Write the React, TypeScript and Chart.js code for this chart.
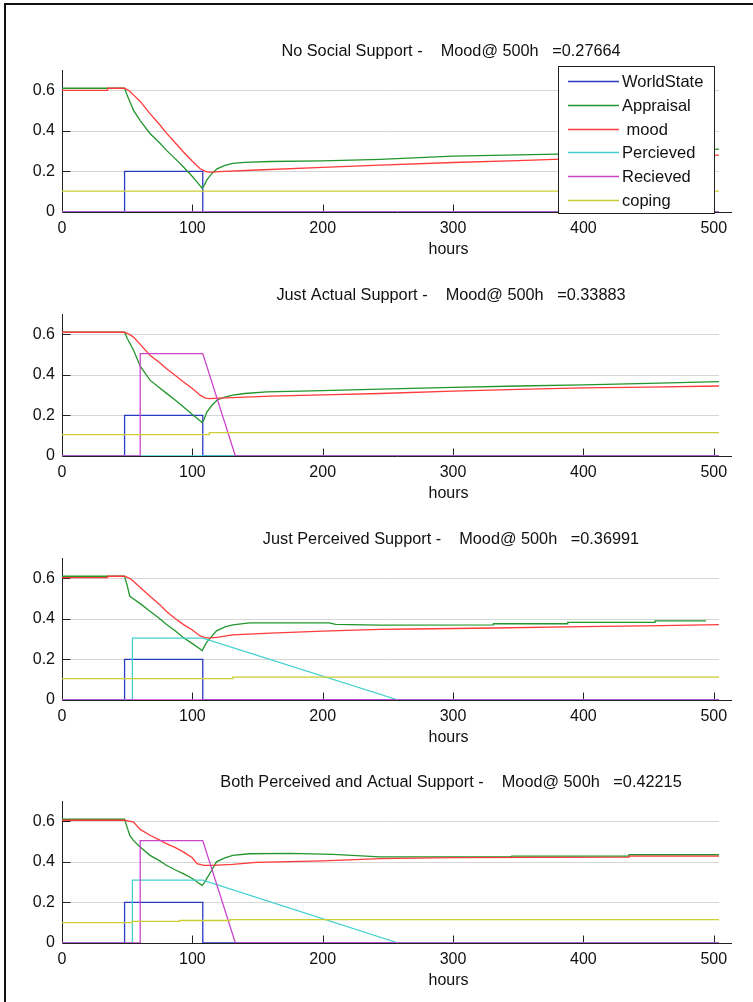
import React, { useEffect, useRef } from 'react';
import { Chart, registerables } from 'chart.js';

Chart.register(...registerables);

const FONT = "'Liberation Sans', Arial, Helvetica, sans-serif";

const seriesNames = ['WorldState', 'Appraisal', ' mood', 'Percieved', 'Recieved', 'coping'];
const seriesColors = ['#2b3cc4', '#22952c', '#ff3a3a', '#44d0d0', '#cc44cc', '#cccc33'];

const xTicks = [0, 100, 200, 300, 400, 500];
const yTicks = [0, 0.2, 0.4, 0.6];
const yGrid = [0.2, 0.4, 0.6];

const panelNames = [
  'No Social Support',
  'Just Actual Support',
  'Just Perceived Support',
  'Both Perceived and Actual Support',
];
const moodAt500 = ['0.27664', '0.33883', '0.36991', '0.42215'];

type Pt = [number, number];

// shared series
const worldState: Pt[] = [[0, 0], [48, 0], [48, 0.2], [108, 0.2], [108, 0], [504, 0]];
const zeroLine: Pt[] = [[0, 0], [504, 0]];

// Panel 1: No Social Support
const p1Appraisal: Pt[] = [
  [0, 0.61], [48, 0.61], [50, 0.575], [52, 0.545], [55, 0.5], [60, 0.45], [67.5, 0.387],
  [75, 0.34], [80, 0.305], [87, 0.262], [93, 0.223], [100, 0.175], [104, 0.145], [107.5, 0.117],
  [109, 0.13], [111, 0.157], [115, 0.19], [119, 0.213], [125, 0.23], [131, 0.24], [140, 0.245],
  [160, 0.249], [200, 0.252], [244, 0.259], [300, 0.275], [380, 0.285], [450, 0.298], [504, 0.31],
];
const p1Mood: Pt[] = [
  [0, 0.6], [35, 0.6], [35, 0.61], [48, 0.61], [52, 0.595], [55, 0.576], [60, 0.545],
  [67.5, 0.485], [75, 0.43], [80, 0.39], [87, 0.34], [93, 0.297], [100, 0.25], [106, 0.213],
  [110, 0.2], [113, 0.197], [116, 0.197], [120, 0.199], [150, 0.207], [200, 0.22], [244, 0.231],
  [300, 0.244], [350, 0.253], [400, 0.264], [450, 0.272], [504, 0.28],
];
const p1Coping: Pt[] = [[0, 0.103], [504, 0.103]];

// Panel 2: Just Actual Support
const p2Appraisal: Pt[] = [
  [0, 0.61], [48, 0.61], [50, 0.58], [55, 0.52], [60, 0.443], [67.5, 0.374], [75, 0.335],
  [80, 0.31], [87, 0.275], [93, 0.243], [100, 0.205], [107.5, 0.165], [109, 0.18], [111, 0.215],
  [115, 0.25], [119, 0.276], [125, 0.29], [131, 0.3], [140, 0.308], [157, 0.316], [200, 0.322],
  [244, 0.33], [300, 0.338], [350, 0.345], [400, 0.351], [450, 0.358], [504, 0.367],
];
const p2Mood: Pt[] = [
  [0, 0.61], [48, 0.61], [52, 0.598], [55, 0.585], [60, 0.55], [67.5, 0.497], [75, 0.46],
  [80, 0.431], [87, 0.397], [93, 0.366], [100, 0.333], [106, 0.3], [110, 0.285], [113, 0.283],
  [120, 0.285], [131, 0.288], [160, 0.295], [200, 0.301], [244, 0.308], [300, 0.32], [350, 0.328],
  [400, 0.336], [450, 0.34], [504, 0.345],
];
const p2Recieved: Pt[] = [[0, 0], [60, 0], [60, 0.505], [108, 0.505], [133, 0], [504, 0]];
const p2Coping: Pt[] = [[0, 0.105], [113, 0.105], [113, 0.115], [504, 0.115]];

// Panel 3: Just Perceived Support
const p3Appraisal: Pt[] = [
  [0, 0.61], [48, 0.61], [50, 0.565], [52, 0.511], [55, 0.498], [60, 0.475], [67.5, 0.438],
  [75, 0.4], [80, 0.373], [87, 0.34], [93, 0.308], [100, 0.278], [106, 0.251], [107.5, 0.243],
  [109, 0.262], [111, 0.284], [115, 0.315], [118.5, 0.341], [125, 0.36], [131, 0.37], [144, 0.38],
  [205, 0.38], [210, 0.373], [244, 0.369], [331, 0.37], [331, 0.376], [388, 0.376], [388, 0.383],
  [455, 0.383], [455, 0.39], [494, 0.39],
];
const p3Mood: Pt[] = [
  [0, 0.603], [35, 0.603], [35, 0.61], [48, 0.61], [52, 0.6], [55, 0.584], [60, 0.555],
  [67.5, 0.511], [75, 0.47], [80, 0.438], [87, 0.4], [93, 0.373], [100, 0.345], [106, 0.316],
  [110, 0.308], [113, 0.305], [120, 0.31], [131, 0.321], [160, 0.33], [200, 0.34], [244, 0.348],
  [270, 0.35], [331, 0.355], [400, 0.362], [460, 0.367], [504, 0.372],
];
const p3Percieved: Pt[] = [[0, 0], [54, 0], [54, 0.305], [108, 0.305], [258, 0], [504, 0]];
const p3Coping: Pt[] = [[0, 0.105], [131, 0.105], [131, 0.113], [504, 0.113]];

// Panel 4: Both Perceived and Actual Support
const p4Appraisal: Pt[] = [
  [0, 0.61], [48, 0.61], [49.5, 0.58], [52, 0.53], [54.7, 0.506], [60, 0.473], [67.5, 0.432],
  [75, 0.405], [80, 0.383], [87, 0.36], [93, 0.342], [100, 0.318], [105, 0.295], [107.5, 0.284],
  [109, 0.295], [111, 0.317], [115, 0.36], [118.5, 0.4], [125, 0.42], [131, 0.432], [144, 0.44],
  [175, 0.442], [208, 0.437], [244, 0.425], [345, 0.425], [345, 0.428], [435, 0.428],
  [435, 0.435], [504, 0.435],
];
const p4Mood: Pt[] = [
  [0, 0.605], [48, 0.605], [52, 0.6], [54.7, 0.597], [60, 0.56], [67.5, 0.531], [75, 0.507],
  [80, 0.49], [87, 0.47], [93, 0.449], [100, 0.42], [103.5, 0.391], [108.8, 0.383], [115, 0.383],
  [131, 0.388], [149, 0.397], [200, 0.405], [244, 0.416], [300, 0.421], [435, 0.423],
  [435, 0.428], [504, 0.428],
];
const p4Percieved: Pt[] = [[0, 0], [54, 0], [54, 0.31], [108, 0.31], [258, 0], [504, 0]];
const p4Recieved: Pt[] = [[0, 0], [60, 0], [60, 0.505], [108, 0.505], [133, 0], [504, 0]];
const p4Coping: Pt[] = [
  [0, 0.1], [54, 0.1], [54, 0.107], [90, 0.107], [90, 0.111], [129, 0.111], [129, 0.115], [504, 0.115],
];

const panelSeries: Pt[][][] = [
  [worldState, p1Appraisal, p1Mood, zeroLine, zeroLine, p1Coping],
  [worldState, p2Appraisal, p2Mood, zeroLine, p2Recieved, p2Coping],
  [worldState, p3Appraisal, p3Mood, p3Percieved, zeroLine, p3Coping],
  [worldState, p4Appraisal, p4Mood, p4Percieved, p4Recieved, p4Coping],
];

const X_MAX = 514;
const DATA_END = 504;
const Y_MAX = 0.7;
const CANVAS_W = 753;
const CANVAS_H = 260;
const panelTops = [0, 244, 488, 731];

const matlabAxes = {
  id: 'matlabAxes',
  beforeDatasetsDraw(chart: any) {
    const { ctx } = chart;
    const x = chart.scales.x;
    const y = chart.scales.y;
    ctx.save();
    ctx.lineWidth = 1;
    ctx.strokeStyle = '#d6d6d6';
    for (const v of yGrid) {
      const py = Math.round(y.getPixelForValue(v)) + 0.5;
      ctx.beginPath();
      ctx.moveTo(x.getPixelForValue(0), py);
      ctx.lineTo(x.getPixelForValue(DATA_END), py);
      ctx.stroke();
    }
    const x0 = Math.round(x.getPixelForValue(0)) + 0.5;
    const y0 = Math.round(y.getPixelForValue(0)) + 0.5;
    ctx.strokeStyle = '#222';
    ctx.beginPath();
    ctx.moveTo(x0, y.getPixelForValue(Y_MAX));
    ctx.lineTo(x0, y0);
    ctx.lineTo(x.getPixelForValue(X_MAX), y0);
    ctx.stroke();
    for (const v of yTicks) {
      if (v === 0) continue;
      const py = Math.round(y.getPixelForValue(v)) + 0.5;
      ctx.beginPath();
      ctx.moveTo(x0, py);
      ctx.lineTo(x0 + 8, py);
      ctx.stroke();
    }
    for (const v of xTicks) {
      if (v === 0) continue;
      const px = Math.round(x.getPixelForValue(v)) + 0.5;
      ctx.beginPath();
      ctx.moveTo(px, y0);
      ctx.lineTo(px, y0 - 8);
      ctx.stroke();
    }
    ctx.restore();
  },
  afterDatasetsDraw(chart: any, _args: any, opts: any) {
    const { ctx } = chart;
    const y = chart.scales.y;
    const y0 = y.getPixelForValue(0);
    ctx.save();
    ctx.fillStyle = '#111';
    ctx.font = `16.3px ${FONT}`;
    ctx.textAlign = 'center';
    ctx.textBaseline = 'alphabetic';
    ctx.fillText(opts.title, 451, y0 - 156);
    ctx.font = `16px ${FONT}`;
    ctx.fillText('hours', 448.5, y0 + 42);
    if (opts.showLegend) {
      const bx = 558, by = 66, bw = 156, bh = 147;
      ctx.fillStyle = '#fff';
      ctx.fillRect(bx, by, bw, bh);
      ctx.strokeStyle = '#222';
      ctx.lineWidth = 1;
      ctx.strokeRect(bx + 0.5, by + 0.5, bw, bh);
      ctx.font = `16.5px ${FONT}`;
      ctx.textAlign = 'left';
      ctx.textBaseline = 'middle';
      chart.data.datasets.forEach((ds: any, i: number) => {
        const ry = Math.round(81 + i * 23.8) + 0.5;
        ctx.strokeStyle = ds.borderColor;
        ctx.lineWidth = 1.3;
        ctx.beginPath();
        ctx.moveTo(568, ry);
        ctx.lineTo(619, ry);
        ctx.stroke();
        ctx.fillStyle = '#111';
        ctx.fillText(ds.label, 622, ry + 1);
      });
    }
    ctx.restore();
  },
};

function Panel({ index }: { index: number }) {
  const ref = useRef<HTMLCanvasElement | null>(null);
  useEffect(() => {
    if (!ref.current) return;
    const series = panelSeries[index];
    const chart = new Chart(ref.current, {
      type: 'line',
      data: {
        datasets: series.map((pts, i) => ({
          label: seriesNames[i],
          data: pts.map(([x, y]) => ({ x, y })),
          borderColor: seriesColors[i],
          backgroundColor: seriesColors[i],
          borderWidth: 1.3,
          pointRadius: 0,
          tension: 0,
          fill: false,
          order: 6 - i,
        })),
      },
      options: {
        responsive: false,
        animation: false,
        events: [],
        layout: { padding: { top: 70, right: CANVAS_W - 732, left: 0, bottom: 0 } },
        plugins: {
          legend: { display: false },
          tooltip: { enabled: false },
          title: { display: false },
          matlabAxes: {
            title: `${panelNames[index]} -    Mood@ 500h   =${moodAt500[index]}`,
            showLegend: index === 0,
          },
        } as any,
        scales: {
          x: {
            type: 'linear',
            min: 0,
            max: X_MAX,
            grid: { display: false, drawTicks: false, tickLength: 0 },
            border: { display: false },
            ticks: {
              font: { family: FONT, size: 16 },
              color: '#111',
              padding: 7,
              maxRotation: 0,
              autoSkip: false,
              includeBounds: false,
            },
            afterBuildTicks: (s: any) => {
              s.ticks = xTicks.map((v) => ({ value: v }));
            },
            afterFit: (s: any) => {
              s.height = CANVAS_H - 212;
            },
          },
          y: {
            type: 'linear',
            min: 0,
            max: Y_MAX,
            grid: { display: false, drawTicks: false, tickLength: 0 },
            border: { display: false },
            ticks: {
              font: { family: FONT, size: 16 },
              color: '#111',
              padding: 7,
              includeBounds: false,
              callback: (v: any) => (Number(v) === 0 ? '0' : Number(v).toFixed(1)),
            },
            afterBuildTicks: (s: any) => {
              s.ticks = yTicks.map((v) => ({ value: v }));
            },
            afterFit: (s: any) => {
              s.width = 62;
            },
          },
        } as any,
      },
      plugins: [matlabAxes as any],
    });
    return () => chart.destroy();
  }, [index]);
  return (
    <canvas
      ref={ref}
      width={CANVAS_W}
      height={CANVAS_H}
      style={{ position: 'absolute', left: 0, top: panelTops[index], width: CANVAS_W, height: CANVAS_H }}
    />
  );
}

export default function App() {
  return (
    <div
      style={{
        position: 'absolute',
        left: 0,
        top: 0,
        width: 753,
        height: 1002,
        background: '#fff',
        overflow: 'hidden',
      }}
    >
      <div
        style={{
          position: 'absolute',
          left: 4,
          top: 3,
          width: 800,
          height: 1100,
          borderLeft: '2px solid #111',
          borderTop: '2px solid #111',
        }}
      />
      {[0, 1, 2, 3].map((i) => (
        <Panel key={i} index={i} />
      ))}
    </div>
  );
}
